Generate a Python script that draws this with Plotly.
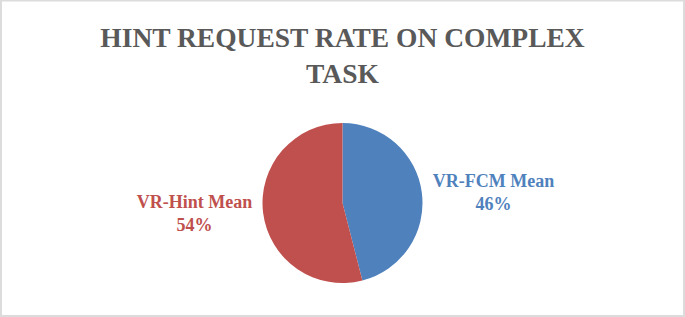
import plotly.graph_objects as go

labels = ["VR-FCM Mean", "VR-Hint Mean"]
values = [46, 54]
colors = ["#4F81BD", "#C0504D"]
title_text = "HINT REQUEST RATE ON COMPLEX<br>TASK"

W, H = 685, 317
ML, MR, MT, MB = 20, 20, 123, 34

fig = go.Figure(go.Pie(
    labels=labels,
    values=values,
    sort=False,
    direction="clockwise",
    rotation=0,
    marker=dict(colors=colors, line=dict(color="white", width=0)),
    textposition="outside",
    texttemplate="<b>%{label}<br>%{percent:.0%}</b>",
    outsidetextfont=dict(family="Liberation Serif", size=18, color=colors),
    showlegend=False,
    automargin=False,
    hole=0,
))

pw, ph = W - ML - MR, H - MT - MB
fig.update_layout(
    width=W, height=H,
    margin=dict(l=ML, r=MR, t=MT, b=MB, autoexpand=False),
    paper_bgcolor="white",
    plot_bgcolor="white",
    title=dict(
        text="<b>" + title_text + "</b>",
        x=0.5, xanchor="center",
        y=0.852, yanchor="top", yref="container",
        font=dict(family="Liberation Serif", size=27.5, color="#595959"),
    ),
    shapes=[dict(
        type="rect", xref="paper", yref="paper",
        x0=(-ML + 1) / pw, x1=1 + (MR - 1) / pw,
        y0=(-MB + 1) / ph, y1=1 + (MT - 0.5) / ph,
        line=dict(color="#dcdcdc", width=2),
        fillcolor="rgba(0,0,0,0)",
    )],
)

fig.write_html(
    "out.html",
    config={"displayModeBar": False},
    post_script="document.body.style.margin='0';",
)
